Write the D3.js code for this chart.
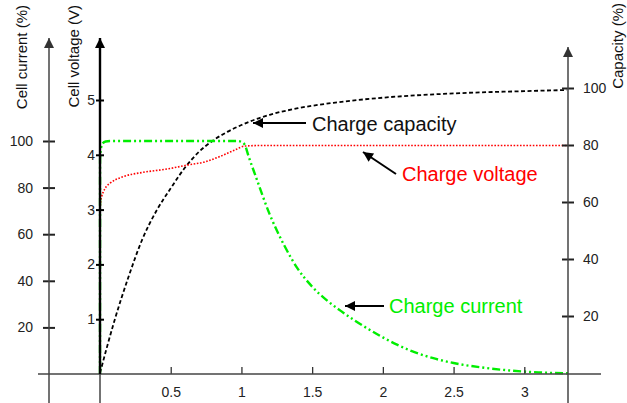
<!DOCTYPE html>
<html><head><meta charset="utf-8">
<script src="https://cdn.jsdelivr.net/npm/d3@7"></script>
<style>body{margin:0;background:#fff}svg{display:block}text{font-family:"Liberation Sans",Arial,sans-serif}</style>
</head><body><svg id="c" width="627" height="403"></svg>
<script>
// ---- data ----
const xTicks = [0.5, 1, 1.5, 2, 2.5, 3];
const currentTicks = [20, 40, 60, 80, 100];
const voltageTicks = [1, 2, 3, 4, 5];
const capacityTicks = [20, 40, 60, 80, 100];

const currentHours = [0, 0.0005, 0.007, 0.02, 0.04, 0.07, 0.5, 0.97, 1.0, 1.025, 1.05, 1.1, 1.2, 1.3, 1.4, 1.5, 1.6, 1.7, 1.8, 1.9, 2.0, 2.1, 2.2, 2.35, 2.5, 2.7, 2.9, 3.1, 3.31];
const currentPct   = [0, 92, 97, 99, 99.8, 100, 100, 100, 99.6, 98.2, 93.5, 85, 68.5, 55.5, 45, 37.5, 31.8, 27.2, 23.0, 19.2, 15.7, 12.6, 9.9, 6.9, 4.7, 2.8, 1.5, 0.7, 0.3];

const voltageHours = [0, 0.004, 0.012, 0.023, 0.045, 0.07, 0.163, 0.305, 0.472, 0.613, 0.74, 0.849, 0.955, 1.025, 1.15, 3.31];
const voltageV     = [2.95, 3.12, 3.24, 3.32, 3.42, 3.48, 3.60, 3.68, 3.74, 3.81, 3.87, 3.97, 4.09, 4.16, 4.17, 4.17];

const capacityHours = [0, 0.1, 0.2, 0.3, 0.4, 0.5, 0.6, 0.7, 0.8, 0.9, 1.0, 1.1, 1.2, 1.4, 1.65, 2.0, 2.5, 3.0, 3.3];
const capacityPct   = [0, 18, 33.5, 47, 57, 64.8, 72, 77.6, 81.6, 84.6, 87, 89, 90.6, 92.9, 94.8, 96.6, 98.1, 98.9, 99.3];

const labels = {cap: "Charge capacity", volt: "Charge voltage", cur: "Charge current"};

// ---- scales ----
const svg = d3.select("#c");
const x = d3.scaleLinear().domain([0, 3]).range([100, 524.3]);
const yCur = d3.scaleLinear().domain([0, 100]).range([374, 141]);
const yVolt = d3.scaleLinear().domain([0, 5]).range([374, 100]);
const yCap = d3.scaleLinear().domain([0, 100]).range([373, 88]);

const defs = svg.append("defs");
function marker(id, color, w, h) {
  defs.append("marker").attr("id", id).attr("viewBox", "0 0 10 10").attr("refX", 10).attr("refY", 5)
    .attr("markerWidth", w).attr("markerHeight", h).attr("markerUnits", "userSpaceOnUse").attr("orient", "auto")
    .append("path").attr("d", "M0,0L10,5L0,10Z").attr("fill", color);
}
marker("axArrowG", "#333", 11, 10);
marker("axArrowB", "#000", 11, 10);
marker("annArrow", "#000", 13, 10);

// ---- curves ----
const zip = (a, b) => a.map((v, i) => [v, b[i]]);
const curve = d3.curveMonotoneX;
svg.append("path").datum(zip(capacityHours, capacityPct))
  .attr("d", d3.line().x(d => x(d[0])).y(d => yCap(d[1])).curve(curve))
  .attr("fill", "none").attr("stroke", "#000").attr("stroke-width", 1.8).attr("stroke-dasharray", "4,2.5");
svg.append("path").datum(zip(voltageHours, voltageV))
  .attr("d", d3.line().x(d => x(d[0])).y(d => yVolt(d[1])).curve(curve))
  .attr("fill", "none").attr("stroke", "#ff0000").attr("stroke-width", 1.6).attr("stroke-dasharray", "1.6,1.6");
svg.append("path").datum(zip(currentHours, currentPct))
  .attr("d", d3.line().x(d => x(d[0])).y(d => yCur(d[1])).curve(curve))
  .attr("fill", "none").attr("stroke", "#00ee00").attr("stroke-width", 2.4).attr("stroke-dasharray", "8,3,2,3,2,3");

// ---- axes ----
const xAx = svg.append("g").attr("transform", "translate(0,374)")
  .call(d3.axisTop(x).tickValues(xTicks).tickSize(7).tickFormat(d3.format("")));
xAx.select(".domain").remove();
xAx.selectAll(".tick line").attr("stroke", "#333").attr("stroke-width", 1.3);
xAx.selectAll(".tick text").attr("y", 23).attr("dy", 0).attr("font-size", 14).attr("fill", "#222");
svg.append("line").attr("x1", 38).attr("x2", 601).attr("y1", 374).attr("y2", 374).attr("stroke", "#444").attr("stroke-width", 1.5);

// current axis (left)
const cAx = svg.append("g").attr("transform", "translate(49,0)")
  .call(d3.axisLeft(yCur).tickValues(currentTicks).tickSize(6).tickFormat(d3.format("d")));
cAx.select(".domain").remove();
cAx.selectAll(".tick line").attr("x1", -6).attr("x2", 6).attr("stroke", "#222").attr("stroke-width", 2);
cAx.selectAll(".tick text").attr("x", -16).attr("font-size", 14).attr("fill", "#222");
svg.append("line").attr("x1", 49).attr("x2", 49).attr("y1", 403).attr("y2", 38)
  .attr("stroke", "#444").attr("stroke-width", 1.5).attr("marker-end", "url(#axArrowG)");

// voltage axis
const vAx = svg.append("g").attr("transform", "translate(100,0)")
  .call(d3.axisLeft(yVolt).tickValues(voltageTicks).tickSize(4).tickFormat(d3.format("d")));
vAx.select(".domain").remove();
vAx.selectAll(".tick line").attr("x1", -4).attr("x2", 4).attr("stroke", "#000").attr("stroke-width", 2);
vAx.selectAll(".tick text").attr("x", -5).attr("font-size", 14).attr("fill", "#222");
svg.append("line").attr("x1", 100).attr("x2", 100).attr("y1", 403).attr("y2", 374).attr("stroke", "#444").attr("stroke-width", 1.5);
svg.append("line").attr("x1", 100).attr("x2", 100).attr("y1", 374).attr("y2", 38)
  .attr("stroke", "#000").attr("stroke-width", 2.4).attr("marker-end", "url(#axArrowB)");

// capacity axis (right)
const rAx = svg.append("g").attr("transform", "translate(568,0)")
  .call(d3.axisRight(yCap).tickValues(capacityTicks).tickSize(6).tickFormat(d3.format("d")));
rAx.select(".domain").remove();
rAx.selectAll(".tick line").attr("x1", -6).attr("x2", 6).attr("stroke", "#222").attr("stroke-width", 2);
rAx.selectAll(".tick text").attr("x", 15).attr("font-size", 14).attr("fill", "#222");
svg.append("line").attr("x1", 568).attr("x2", 568).attr("y1", 403).attr("y2", 47)
  .attr("stroke", "#444").attr("stroke-width", 1.5).attr("marker-end", "url(#axArrowG)");

// axis titles
function vtitle(tx, ty, s) {
  svg.append("text").attr("transform", `translate(${tx},${ty}) rotate(-90)`)
    .attr("text-anchor", "end").attr("font-size", 15).attr("fill", "#111").text(s);
}
vtitle(27, 5, "Cell current (%)");
vtitle(79, 5, "Cell voltage (V)");
vtitle(623, 3, "Capacity (%)");

// ---- annotations ----
function ann(x1, y1, x2, y2) {
  svg.append("line").attr("x1", x1).attr("y1", y1).attr("x2", x2).attr("y2", y2)
    .attr("stroke", "#000").attr("stroke-width", 2).attr("marker-end", "url(#annArrow)");
}
ann(306, 123, 253, 123);
ann(396, 174, 363, 152);
ann(384, 306, 345, 306);
svg.append("text").attr("x", 312).attr("y", 131).attr("font-size", 20).attr("fill", "#111").text(labels.cap);
svg.append("text").attr("x", 402).attr("y", 181).attr("font-size", 20).attr("fill", "#ff0000").text(labels.volt);
svg.append("text").attr("x", 389).attr("y", 313).attr("font-size", 20).attr("fill", "#00ee00").text(labels.cur);
</script></body></html>
